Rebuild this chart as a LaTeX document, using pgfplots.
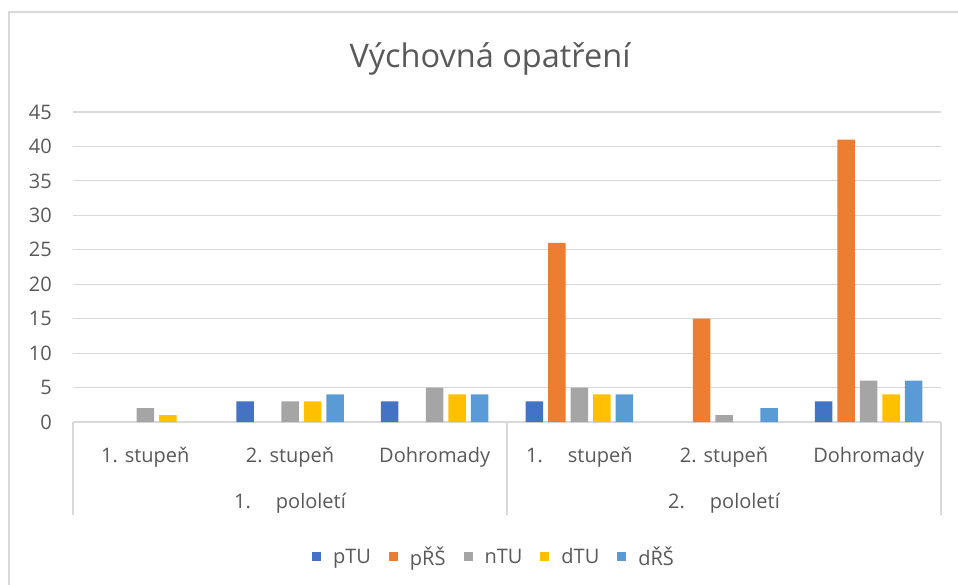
\documentclass[border=0pt]{standalone}
\usepackage{pgfplots}
\pgfplotsset{compat=1.18}
\usepackage{fontspec}
\setmainfont{Open Sans}
\definecolor{cA}{HTML}{4472C4}
\definecolor{cB}{HTML}{ED7D31}
\definecolor{cC}{HTML}{A5A5A5}
\definecolor{cD}{HTML}{FFC000}
\definecolor{cE}{HTML}{5B9BD5}
\definecolor{gridc}{HTML}{D9D9D9}
\definecolor{txt}{HTML}{595959}
\begin{document}
\begin{tikzpicture}[x=1pt,y=1pt]
\useasboundingbox (0,0) rectangle (958,584);
\draw[gridc, line width=1.2pt] (9,572) rectangle (975,-20);
\node[anchor=base, text=txt, font=\fontsize{32.5}{38}\selectfont] at (490,516) {Výchovná opatření};
\begin{axis}[
  at={(73pt,162pt)}, anchor=south west,
  scale only axis, width=868pt, height=310pt,
  xmin=-0.5, xmax=5.5, ymin=0, ymax=45,
  ytick={0,5,...,45},
  xtick={0,...,5},
  xticklabels={1. stupeň, 2. stupeň, Dohromady, 1.\hspace{25pt}stupeň, 2. stupeň, Dohromady},
  ybar=5pt, bar width=17.5pt,
  axis lines*=left,
  y axis line style={draw=none},
  x axis line style={draw=gridc, line width=1.2pt},
  ymajorgrids, grid style={gridc, line width=1.2pt},
  major tick length=0pt,
  /pgf/number format/assume math mode=true,
  tick label style={text=txt, font=\fontsize{20}{24}\selectfont},
  yticklabel style={anchor=east, inner sep=0pt, xshift=-21pt},
  xticklabel style={anchor=base, yshift=-40pt},
  clip=false,
  legend columns=5,
  legend style={draw=none, at={(0.485,-0.435)}, anchor=center, font=\fontsize{20}{24}\selectfont, text=txt,
    /tikz/every odd column/.append style={column sep=10pt},
    /tikz/every even column/.append style={column sep=16pt}},
  legend image code/.code={\fill[#1] (0pt,-4.5pt) rectangle (9pt,4.5pt);},
  every axis plot/.append style={draw=none},
]
\addplot[fill=cA] coordinates {(1,3) (2,3) (3,3) (5,3)};
\addplot[fill=cB] coordinates {(3,26) (4,15) (5,41)};
\addplot[fill=cC] coordinates {(0,2) (1,3) (2,5) (3,5) (4,1) (5,6)};
\addplot[fill=cD] coordinates {(0,1) (1,3) (2,4) (3,4) (5,4)};
\addplot[fill=cE] coordinates {(1,4) (2,4) (3,4) (4,2) (5,6)};
\legend{pTU, pŘŠ, nTU, dTU, dŘŠ}
\draw[gridc, line width=1.2pt] (axis cs:-0.5,0) -- ([yshift=-93pt]axis cs:-0.5,0);
\draw[gridc, line width=1.2pt] (axis cs:2.5,0) -- ([yshift=-93pt]axis cs:2.5,0);
\draw[gridc, line width=1.2pt] (axis cs:5.5,0) -- ([yshift=-93pt]axis cs:5.5,0);
\node[anchor=base, text=txt, font=\fontsize{20}{24}\selectfont] at ([yshift=-86pt]axis cs:1,0) {1.\hspace{25pt}pololetí};
\node[anchor=base, text=txt, font=\fontsize{20}{24}\selectfont] at ([yshift=-86pt]axis cs:4,0) {2.\hspace{25pt}pololetí};
\end{axis}
\end{tikzpicture}
\end{document}
